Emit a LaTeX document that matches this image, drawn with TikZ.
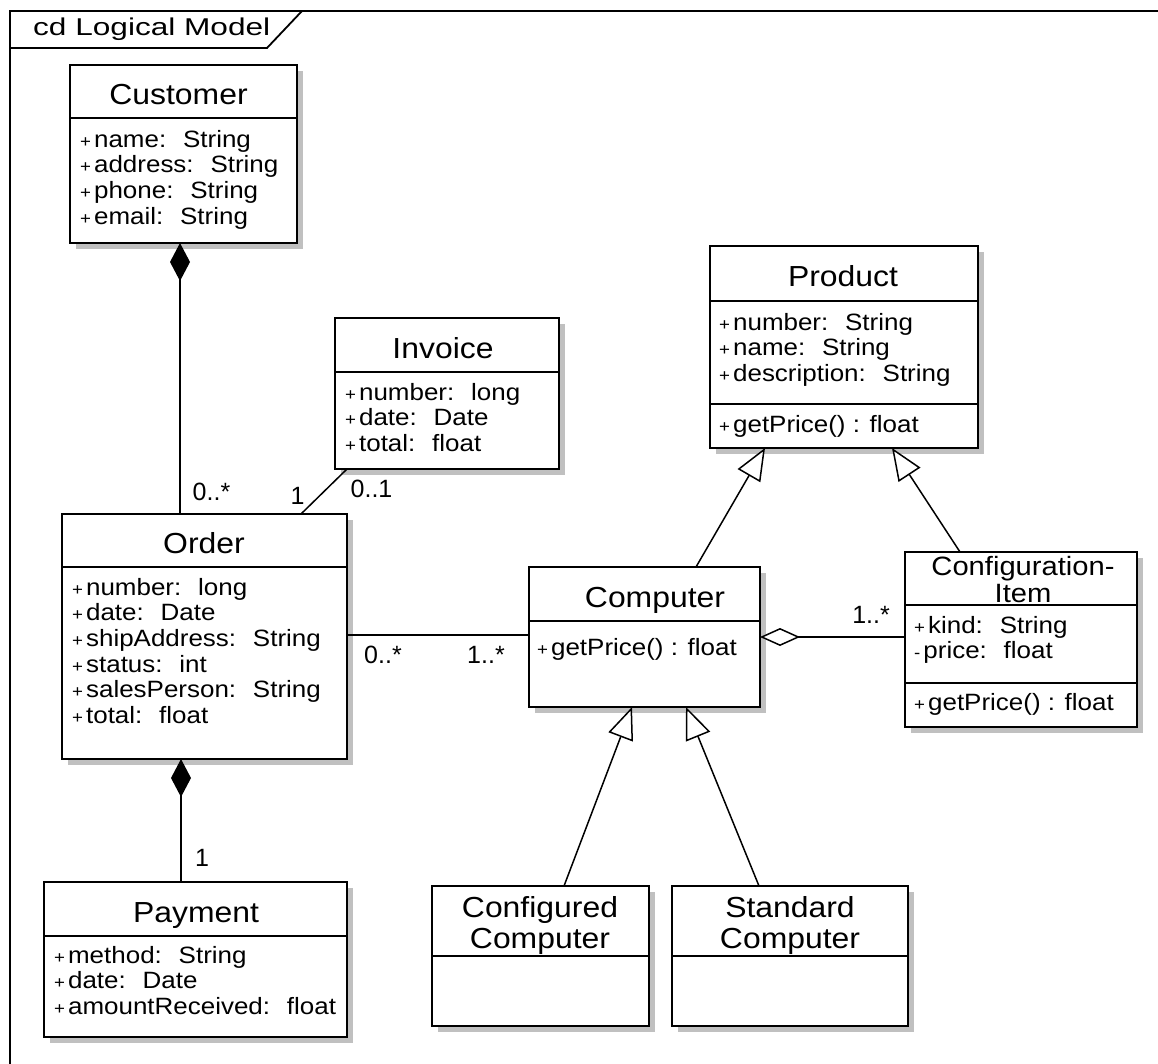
\documentclass[tikz,border=0pt]{standalone}
\usepackage{fontspec}
\setmainfont{Liberation Sans}
\newfontfamily\umlfont[FakeStretch=1.1]{Liberation Sans}
\newfontfamily\framefont[FakeStretch=1.3]{Liberation Sans}
\usetikzlibrary{arrows.meta,shadows}
\definecolor{shadowgrey}{RGB}{192,192,192}
\newcommand{\vispub}{{\fontsize{17}{17}\selectfont+}\hspace{3pt}}
\newcommand{\vispriv}{{\fontsize{17}{17}\selectfont-}\hspace{3pt}}

\begin{document}
\begin{tikzpicture}[
    x=1pt, y=-1pt,
    classbox/.style={
        draw,
        line width=1.8pt,
        fill=white,
        inner sep=0pt,
        outer sep=0pt,
        drop shadow={shadow xshift=6pt, shadow yshift=-6pt, fill=shadowgrey, opacity=1}
    },
    compline/.style={line width=1.8pt},
    classname/.style={
        font=\umlfont\fontsize{29}{31}\selectfont,
        inner sep=0pt,
        align=center
    },
    members/.style={
        font=\umlfont\fontsize{23.6}{25.6}\selectfont,
        inner sep=0pt,
        align=left,
        anchor=north west
    },
    mult/.style={font=\fontsize{25}{25}\selectfont, inner sep=0pt, anchor=base},
    link/.style={line width=1.5pt},
    composition/.style={link, -{Diamond[length=38pt, width=20pt]}},
    aggregation/.style={link, -{Diamond[open, length=40pt, width=18pt, fill=white]}},
    generalization/.style={link, -{Triangle[open, length=32pt, width=26pt, fill=white]}},
    frame/.style={line width=1.8pt}
]
\useasboundingbox (0,0) rectangle (1158,1064);

% FRAME
\draw[frame] (10,1064) -- (10,11) -- (1158,11);
\draw[frame] (10,48) -- (267,48) -- (302,11);
\node[inner sep=0pt, anchor=base west, font=\framefont\fontsize{24.3}{24.3}\selectfont] (frametitle) at (33,36)
{cd Logical Model};

% CUSTOMER
\node[classbox, minimum width=227, minimum height=178] (customer) at (183.5,154) {};
\draw[compline] (customer.west |- 0,118) -- (customer.east |- 0,118);
\node[classname, anchor=base] (customer-name) at (178.5,105) {Customer};
\node[members] (customer-attr) at (80,129.1)
{\strut\vispub name:~ String\\\vispub address:~ String\\\vispub phone:~ String\\\vispub email:~ String};

% INVOICE
\node[classbox, minimum width=224, minimum height=151] (invoice) at (447,393.5) {};
\draw[compline] (invoice.west |- 0,372) -- (invoice.east |- 0,372);
\node[classname, anchor=base] (invoice-name) at (443,358) {Invoice};
\node[members] (invoice-attr) at (345,382.1)
{\strut\vispub number:~ long\\\vispub date:~ Date\\\vispub total:~ float};

% ORDER
\node[classbox, minimum width=285, minimum height=245] (order) at (204.5,636.5) {};
\draw[compline] (order.west |- 0,567) -- (order.east |- 0,567);
\node[classname, anchor=base] (order-name) at (204,553) {Order};
\node[members] (order-attr) at (72,577.1)
{\strut\vispub number:~ long\\\vispub date:~ Date\\\vispub shipAddress:~ String\\\vispub status:~ int\\\vispub salesPerson:~ String\\\vispub total:~ float};

% PAYMENT
\node[classbox, minimum width=303, minimum height=155] (payment) at (195.5,959.5) {};
\draw[compline] (payment.west |- 0,936) -- (payment.east |- 0,936);
\node[classname, anchor=base] (payment-name) at (196,922) {Payment};
\node[members] (payment-attr) at (54,945.1)
{\strut\vispub method:~ String\\\vispub date:~ Date\\\vispub amountReceived:~ float};

% PRODUCT
\node[classbox, minimum width=268, minimum height=202] (product) at (844,347) {};
\draw[compline] (product.west |- 0,301) -- (product.east |- 0,301);
\draw[compline] (product.west |- 0,404) -- (product.east |- 0,404);
\node[classname, anchor=base] (product-name) at (843,287) {Product};
\node[members] (product-attr) at (719,312.1)
{\strut\vispub number:~ String\\\vispub name:~ String\\\vispub description:~ String};
\node[members] (product-op) at (719,414.1) {\strut\vispub getPrice() : float};

% COMPUTER
\node[classbox, minimum width=231, minimum height=140] (computer) at (644.5,637) {};
\draw[compline] (computer.west |- 0,621) -- (computer.east |- 0,621);
\node[classname, anchor=base] (computer-name) at (655,607) {Computer};
\node[members] (computer-op) at (537,637.1) {\strut\vispub getPrice() : float};

% CONFIGURATION ITEM
\node[classbox, minimum width=232, minimum height=175] (configitem) at (1021,639.5) {};
\draw[compline] (configitem.west |- 0,605) -- (configitem.east |- 0,605);
\draw[compline] (configitem.west |- 0,683) -- (configitem.east |- 0,683);
\node[classname, anchor=north, font=\umlfont\fontsize{26.5}{27}\selectfont] (configitem-name) at (1023,556.1)
{\strut Configuration-\\Item};
\node[members] (configitem-attr) at (914,615.1)
{\strut\vispub kind:~ String\\\vispriv price:~ float};
\node[members] (configitem-op) at (914,692.1) {\strut\vispub getPrice() : float};

% CONFIGURED / STANDARD COMPUTER
\node[classbox, minimum width=217, minimum height=140] (configured) at (540.5,956) {};
\draw[compline] (configured.west |- 0,956) -- (configured.east |- 0,956);
\node[classname, anchor=north] (configured-name) at (540,895.3) {\strut Configured\\Computer};

\node[classbox, minimum width=236, minimum height=140] (standard) at (790,956) {};
\draw[compline] (standard.west |- 0,956) -- (standard.east |- 0,956);
\node[classname, anchor=north] (standard-name) at (790,895.3) {\strut Standard\\Computer};

% ASSOCIATIONS
\draw[composition] (order.north -| 180,0) -- (customer.south -| 180,0);
\draw[composition] (payment.north -| 181,0) -- (order.south -| 181,0);
\draw[link] (order.north -| 301,0) -- (invoice.south -| 347,0);
\draw[link] (order.east |- 0,635) -- (computer.west |- 0,635);
\draw[aggregation] (configitem.west |- 0,637) -- (computer.east |- 0,637);

% GENERALIZATIONS
\draw[generalization] (computer.north -| 696,0) -- (product.south -| 765,0);
\draw[generalization] (configitem.north -| 960,0) -- (product.south -| 892,0);
\draw[generalization] (configured.north -| 564,0) -- (computer.south -| 632,0);
\draw[generalization] (standard.north -| 759,0) -- (computer.south -| 686,0);

% MULTIPLICITIES
\node[mult] (m-order-customer) at (211.5,500) {0..*};
\node[mult] (m-order-invoice) at (297.5,504) {1};
\node[mult] (m-invoice-order) at (371.5,497) {0..1};
\node[mult] (m-order-computer) at (383,663) {0..*};
\node[mult] (m-computer-order) at (486,663) {1..*};
\node[mult] (m-configitem) at (871,623) {1..*};
\node[mult] (m-payment) at (202,866) {1};

\end{tikzpicture}
\end{document}
